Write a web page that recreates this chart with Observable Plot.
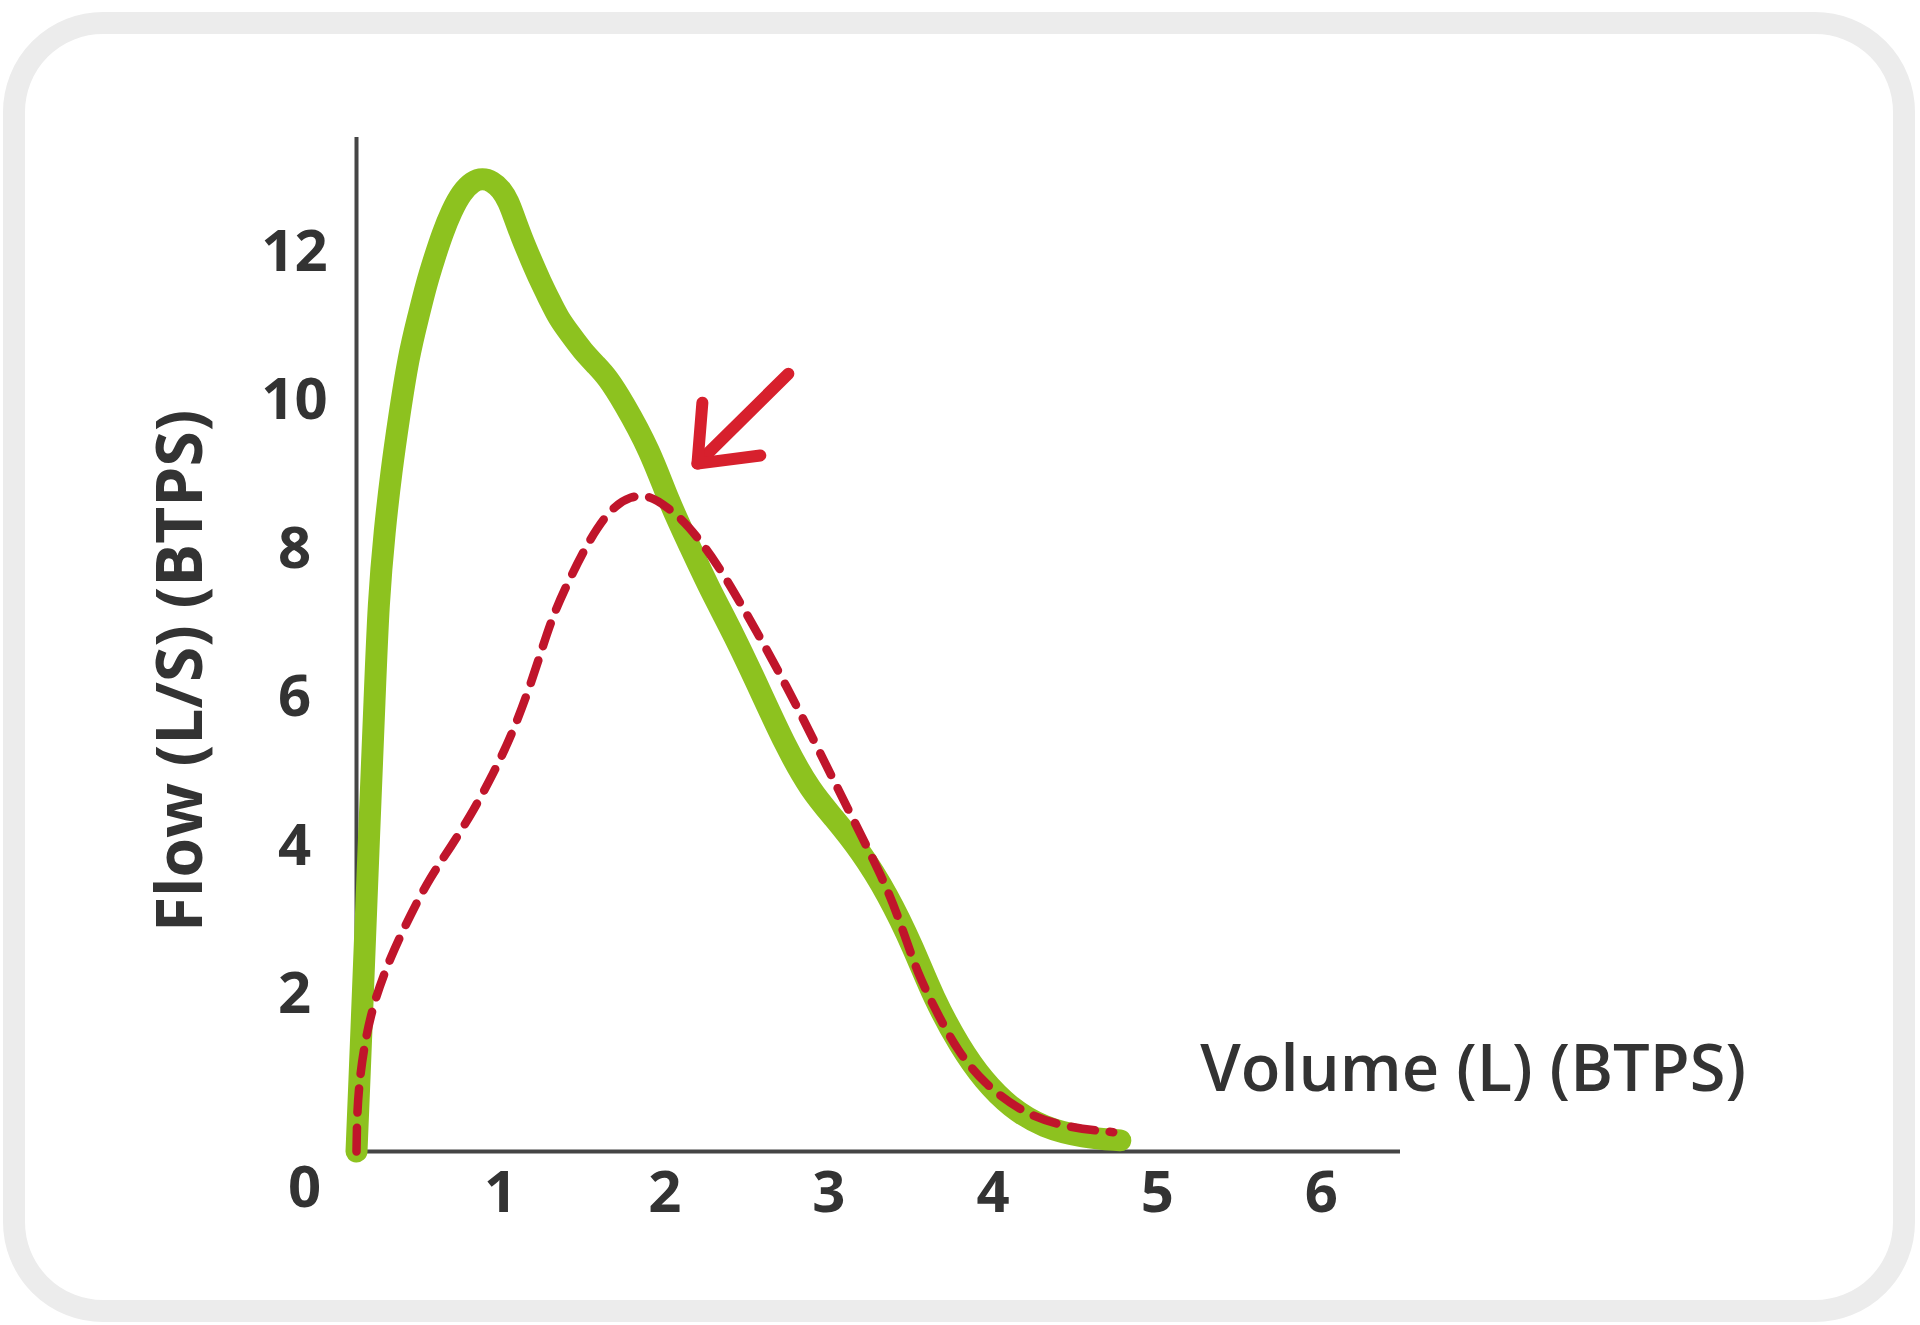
<!DOCTYPE html>
<html>
<head>
<meta charset="utf-8">
<script src="https://cdn.jsdelivr.net/npm/d3@7"></script>
<script src="https://cdn.jsdelivr.net/npm/@observablehq/plot@0.6"></script>
<style>
  html, body { margin: 0; padding: 0; background: #ffffff; width: 1920px; height: 1325px; overflow: hidden; }
  #card { position: absolute; left: 3px; top: 12px; width: 1912px; height: 1310px; box-sizing: border-box;
          border: 22px solid #ececec; border-radius: 100px; background: #ffffff; }
  #chart { position: absolute; left: 0; top: 0; }
</style>
</head>
<body>
<div id="card"></div>
<div id="chart"></div>
<script>
// Solid green curve
const solidVolume = [0, 0.018, 0.037, 0.061, 0.085, 0.11, 0.134, 0.171, 0.213, 0.256, 0.317, 0.378, 0.426, 0.475, 0.524, 0.579, 0.64, 0.707, 0.767, 0.828, 0.883, 0.926, 0.962, 1.005, 1.06, 1.121, 1.175, 1.23, 1.303, 1.376, 1.462, 1.529, 1.62, 1.79, 1.9, 2.034, 2.156, 2.296, 2.46, 2.613, 2.765, 2.905, 3.069, 3.234, 3.392, 3.514, 3.678, 3.819, 3.983, 4.184, 4.428, 4.653];
const solidFlow   = [0, 0.96, 2.03, 3.38, 4.72, 6.07, 7.42, 8.36, 9.17, 9.84, 10.71, 11.25, 11.68, 12.03, 12.36, 12.66, 12.91, 13.06, 13.1, 13.06, 12.95, 12.79, 12.57, 12.31, 12.02, 11.71, 11.47, 11.22, 11.0, 10.78, 10.58, 10.42, 10.11, 9.43, 8.76, 8.13, 7.55, 6.97, 6.2, 5.46, 4.86, 4.5, 4.05, 3.47, 2.75, 2.07, 1.4, 0.96, 0.59, 0.32, 0.19, 0.15];

// Dashed red curve
const dashedVolume = [0, 0.003, 0.012, 0.043, 0.104, 0.207, 0.329, 0.451, 0.572, 0.713, 0.834, 0.938, 1.041, 1.121, 1.2, 1.303, 1.425, 1.547, 1.669, 1.79, 1.894, 2.016, 2.199, 2.339, 2.479, 2.6, 2.704, 2.868, 2.99, 3.112, 3.234, 3.331, 3.417, 3.538, 3.66, 3.819, 4.062, 4.33, 4.61];
const dashedFlow   = [0, 0.42, 0.82, 1.39, 2.01, 2.62, 3.19, 3.7, 4.09, 4.59, 5.09, 5.57, 6.16, 6.7, 7.24, 7.73, 8.26, 8.65, 8.83, 8.83, 8.67, 8.45, 7.91, 7.38, 6.84, 6.34, 5.9, 5.17, 4.63, 4.09, 3.54, 2.97, 2.4, 1.86, 1.36, 0.92, 0.51, 0.32, 0.26];

// Annotation arrow (volume, flow)
const arrowShaftVolume = [2.631, 2.077];
const arrowShaftFlow   = [10.47, 9.26];
const arrowHeadVolume  = [2.107, 2.077, 2.46];
const arrowHeadFlow    = [10.08, 9.26, 9.37];

// Ticks and titles
const xTicks = [1, 2, 3, 4, 5, 6];
const yTicks = [2, 4, 6, 8, 10, 12];
const originLabel = ["0"];
const xTitle = ["Volume (L) (BTPS)"];
const yTitle = ["Flow (L/S) (BTPS)"];

const toRows = (vs, fs) => vs.map((v, i) => ({v, f: fs[i]}));
const solid = toRows(solidVolume, solidFlow);
const dashed = toRows(dashedVolume, dashedFlow);
const shaft = toRows(arrowShaftVolume, arrowShaftFlow);
const head = toRows(arrowHeadVolume, arrowHeadFlow);

const textColor = "#333333";
const font = "'Open Sans', 'DejaVu Sans', sans-serif";

const chart = Plot.plot({
  width: 1920,
  height: 1325,
  marginLeft: 356,
  marginRight: 520,
  marginTop: 137,
  marginBottom: 174,
  style: { background: "transparent", fontFamily: font, color: textColor, overflow: "visible" },
  x: { domain: [0, 6.36] },
  y: { domain: [0, 13.65] },
  marks: [
    Plot.axisX(xTicks, { tickSize: 0, tickPadding: 19, dx: -20, tickFormat: d => String(d), fontSize: 58, fontWeight: 700, fill: textColor, label: null }),
    Plot.axisY(yTicks, { tickSize: 0, tickPadding: 62, dy: -8, tickFormat: d => String(d), textAnchor: "middle", fontSize: 58, fontWeight: 700, fill: textColor, label: null }),
    Plot.text(originLabel, { x: 0, y: 0, text: d => d, dx: -52, dy: 37, fontSize: 58, fontWeight: 700, fill: textColor }),
    Plot.ruleX([0], { stroke: "#454545", strokeWidth: 4 }),
    Plot.ruleY([0], { stroke: "#454545", strokeWidth: 4 }),
    Plot.line(solid, { x: "v", y: "f", stroke: "#8dc21f", strokeWidth: 22, curve: "basis", strokeLinecap: "round", strokeLinejoin: "round" }),
    Plot.line(dashed, { x: "v", y: "f", stroke: "#c0152b", strokeWidth: 8.5, curve: "basis", strokeDasharray: "24,15" }),
    Plot.line(shaft, { x: "v", y: "f", stroke: "#d7202d", strokeWidth: 12, strokeLinecap: "round" }),
    Plot.line(head, { x: "v", y: "f", stroke: "#d7202d", strokeWidth: 12, strokeLinecap: "round", strokeLinejoin: "round" }),
    Plot.text(xTitle, { x: 5.14, y: 1.09, text: d => d, textAnchor: "start", fontSize: 65, fontWeight: 600, fill: textColor }),
    Plot.text(yTitle, { frameAnchor: "left", y: 6.47, text: d => d, textAnchor: "middle", rotate: -90, dx: -175, fontSize: 64, fontWeight: 700, fill: textColor })
  ]
});
document.getElementById("chart").appendChild(chart);
</script>
</body>
</html>
